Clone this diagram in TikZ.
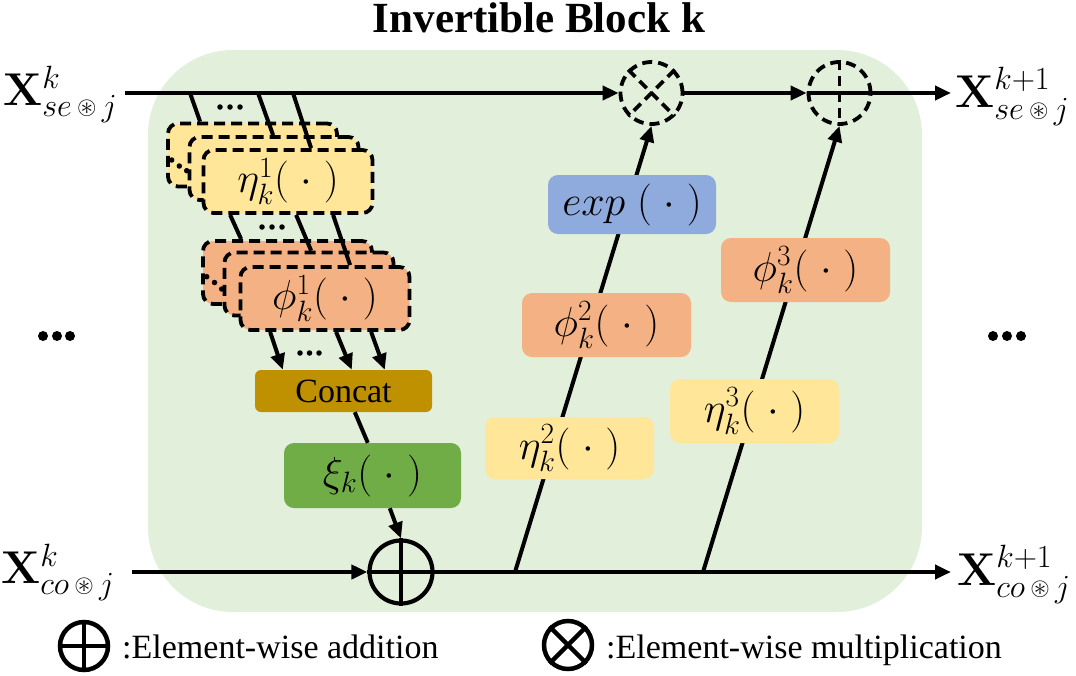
\RequirePackage{fix-cm}
\documentclass[tikz,border=0pt]{standalone}
\usepackage{amsmath,amssymb}
\usepackage[no-math]{fontspec}
\setmainfont{Liberation Serif}
\usetikzlibrary{arrows.meta,calc}
\definecolor{bgG}{HTML}{E2EFDA}
\definecolor{cYel}{HTML}{FFE699}
\definecolor{cOra}{HTML}{F4B183}
\definecolor{cBlu}{HTML}{8FAADC}
\definecolor{cGold}{HTML}{BF9000}
\definecolor{cGrn}{HTML}{70AD47}
\newcommand{\cast}{\mathbin{\vcenter{\hbox{\fontsize{25}{25}\selectfont$\circledast$}}}}
\tikzset{
  fbox/.style={rounded corners=10pt, minimum width=169pt, minimum height=63pt, inner sep=0pt, font=\fontsize{42}{50}\selectfont},
  dbox/.style={draw=black, line width=3.8pt, dash pattern=on 11pt off 6pt},
  ln/.style={line width=4pt},
  arr/.style={line width=4pt, -{Triangle[length=16pt,width=14pt]}},
  lbl/.style={inner sep=0pt, font=\fontsize{46}{55}\selectfont},
  sdot/.style={circle, fill=black, inner sep=0pt, minimum size=5.5pt},
  bdot/.style={circle, fill=black, inner sep=0pt, minimum size=10pt},
  dcirc/.style={circle, draw=black, line width=3.8pt, dash pattern=on 10pt off 6pt, inner sep=0pt, minimum size=62pt},
  legtxt/.style={inner sep=0pt, font=\fontsize{34}{40}\selectfont}
}
\begin{document}
\begin{tikzpicture}[x=1pt,y=-1pt]
\useasboundingbox (0,0) rectangle (1076,675);
% background
\fill[bgG, rounded corners=85pt] (148,50) rectangle (922,612);
% title
\node[anchor=base, inner sep=0pt, font=\bfseries\fontsize{43}{50}\selectfont] (title) at (539,32) {Invertible Block k};

% circles
\node[dcirc] (mul) at (651.5,93) {};
\node[dcirc] (add2) at (839.5,93) {};
\node[circle, draw=black, line width=4.2pt, inner sep=0pt, minimum size=63pt] (add) at (401,572) {};
\draw[line width=3.8pt, dash pattern=on 10pt off 6pt] (mul.north west) -- (mul.south east);
\draw[line width=3.8pt, dash pattern=on 10pt off 6pt] (mul.north east) -- (mul.south west);
\draw[line width=3.8pt, dash pattern=on 10pt off 6pt] (add2.north) -- (add2.south);
\draw[line width=4.2pt] (add.north) -- (add.south);
\draw[line width=4.2pt] (add.west) -- (add.east);

% main lines
\coordinate (inS) at (125,93);
\coordinate (outS) at (951,93);
\coordinate (inC) at (132,572);
\coordinate (outC) at (951,572);
\coordinate (b1) at (515,572);
\coordinate (b2) at (703,572);
\draw[arr] (inS) -- (mul.west);
\draw[arr] (mul.east) -- (add2.west);
\draw[arr] (add2.west) -- (outS);
\draw[arr] (inC) -- (add.west);
\draw[arr] (add.east) -- (outC);
\draw[arr] (b1) -- (mul.south);
\draw[arr] (b2) -- (add2.south);

% right column boxes
\node[fbox, fill=cBlu, minimum width=168pt, minimum height=59pt] (ex) at (632,204.5) {$exp\;(\;\cdot\;)$};
\node[fbox, fill=cOra, minimum height=64pt] (ph2) at (606.5,325) {$\phi_k^2(\;\cdot\;)$};
\node[fbox, fill=cYel, minimum height=62pt] (et2) at (569.5,448) {$\eta_k^2(\;\cdot\;)$};
\node[fbox, fill=cOra, minimum height=64pt] (ph3) at (805.5,270) {$\phi_k^3(\;\cdot\;)$};
\node[fbox, fill=cYel, minimum height=64pt] (et3) at (754.5,411) {$\eta_k^3(\;\cdot\;)$};

% left stacks
\node[fbox, fill=cYel, dbox] (e1) at (252.5,155) {};
\node[fbox, fill=cYel, dbox] (e2) at (274,168.5) {};
\node[fbox, fill=cYel, dbox] (e3) at (288,181.5) {$\eta_k^1(\;\cdot\;)$};
\node[fbox, fill=cOra, dbox] (p1) at (287.5,272.5) {};
\node[fbox, fill=cOra, dbox] (p2) at (309,284) {};
\node[fbox, fill=cOra, dbox] (p3) at (325,298.5) {$\phi_k^1(\;\cdot\;)$};
\node[fbox, fill=cGold, rounded corners=6pt, minimum width=177pt, minimum height=42pt, font=\fontsize{34}{40}\selectfont] (cc) at (343.5,391) {Concat};
\node[fbox, fill=cGrn, minimum width=177pt, minimum height=65pt] (xi) at (372.5,475.5) {$\xi_k(\;\cdot\;)$};

% stack connectors
\coordinate (s1) at (190,93);
\coordinate (s2) at (258,93);
\coordinate (s3) at (293,93);
\draw[ln] (s1) -- ($(e1.north west)+(34,0)$);
\draw[ln] (s2) -- ($(e2.north west)+(85.5,0)$);
\draw[ln] (s3) -- ($(e3.north west)+(109.5,0)$);
\draw[ln] ($(e3.south west)+(28.5,0)$) -- ($(p1.north west)+(40,0)$);
\draw[ln] ($(e3.south west)+(94.5,0)$) -- ($(p2.north west)+(88.5,0)$);
\draw[ln] ($(e3.south west)+(131.5,0)$) -- ($(p3.north west)+(111.5,0)$);
\draw[arr] ($(p3.south west)+(31.5,0)$) -- ($(cc.north west)+(28,0)$);
\draw[arr] ($(p3.south west)+(97.5,0)$) -- ($(cc.north west)+(97,0)$);
\draw[arr] ($(p3.south west)+(132.5,0)$) -- ($(cc.north west)+(130,0)$);
\draw[ln] ($(cc.south west)+(100,0)$) -- ($(xi.north west)+(84,0)$);
\draw[arr] ($(xi.south west)+(106,0)$) -- (add.north);

% small dots
\foreach \x/\y [count=\i] in {220/107,230/107,240/107,262/227,272/227,282/227,300/353,309.5/353,319/353,171.7/160,179.3/166,186.7/170.7,206.7/276.7,214.5/282.5,221.7/289}
  \node[sdot] (sd\i) at (\x,\y) {};
% big dots
\foreach \x [count=\i] in {43,57,70}
  \node[bdot] (ld\i) at (\x,336) {};
\foreach \x [count=\i] in {993,1007,1021}
  \node[bdot] (rd\i) at (\x,336) {};

% labels
\node[lbl, anchor=base west] (xse) at (3,105) {$\mathbf{X}^{k}_{se\,\cast\,j}$};
\node[lbl, anchor=base west] (xco) at (1,583) {$\mathbf{X}^{k}_{co\,\cast\,j}$};
\node[lbl, anchor=base west] (xse1) at (955,107) {$\mathbf{X}^{k+1}_{se\,\cast\,j}$};
\node[lbl, anchor=base west] (xco1) at (957,585) {$\mathbf{X}^{k+1}_{co\,\cast\,j}$};

% legend
\node[circle, draw=black, line width=4.5pt, inner sep=0pt, minimum size=48pt] (lga) at (84,646) {};
\draw[line width=4.5pt] (lga.north) -- (lga.south);
\draw[line width=4.5pt] (lga.west) -- (lga.east);
\node[legtxt, anchor=base west] (lgat) at (122,658) {:Element-wise addition};
\node[circle, draw=black, line width=4.5pt, inner sep=0pt, minimum size=48pt] (lgm) at (568,645) {};
\draw[line width=4.5pt] (lgm.north west) -- (lgm.south east);
\draw[line width=4.5pt] (lgm.north east) -- (lgm.south west);
\node[legtxt, anchor=base west] (lgmt) at (606,658) {:Element-wise multiplication};
\end{tikzpicture}
\end{document}
